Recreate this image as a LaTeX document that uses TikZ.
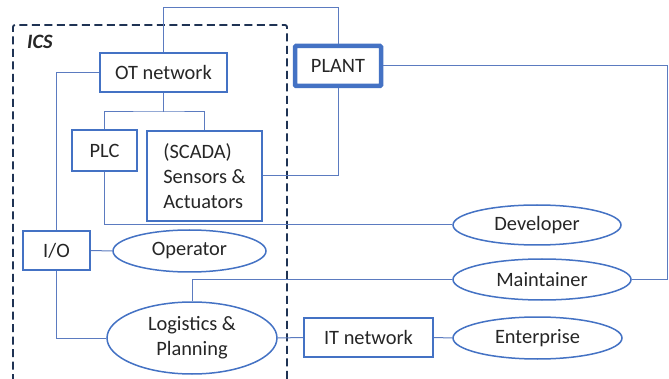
\documentclass[tikz,border=0pt]{standalone}
\usepackage{fontspec}
\setmainfont{Carlito}
\usetikzlibrary{shapes.geometric}
\definecolor{boxblue}{HTML}{4472C4}
\definecolor{wireblue}{HTML}{5B7BC0}
\definecolor{icsnavy}{HTML}{1F3354}
\definecolor{inkgrey}{HTML}{262626}
\begin{document}
\begin{tikzpicture}[x=1pt,y=-1pt,
  every node/.style={font=\fontsize{20.4}{25}\selectfont, text=inkgrey, inner sep=0pt},
  box/.style={draw=boxblue, line width=2pt, fill=white, rectangle},
  thickbox/.style={draw=boxblue, line width=4.5pt, fill=white, rectangle, rounded corners=1pt},
  actor/.style={draw=boxblue, line width=1.5pt, fill=white, ellipse},
  wire/.style={draw=wireblue, line width=1pt},
  boundary/.style={draw=icsnavy, line width=1.8pt, dash pattern=on 8pt off 4.5pt, rounded corners=2pt}]
\useasboundingbox (0,0) rectangle (669,379);
\fill[white] (0,0) rectangle (669,379);

% ICS boundary (open at the bottom edge)
\draw[boundary] (13,382) -- (13,25) -- (287,25) -- (287,382);
\node[anchor=west, font=\fontsize{20.4}{25}\selectfont\bfseries\itshape] (ics) at (27,42) {ICS};

% helper rows and columns for the routed wires
\coordinate (topy) at (0,8);
\coordinate (busy) at (0,112);
\coordinate (rightx) at (667,0);

% nodes
\node[box, minimum width=127pt, minimum height=39pt] (ot) at (163.5,72.5) {OT network};
\node[box, minimum width=65pt, minimum height=41pt] (plc) at (104.5,150.5) {PLC};
\node[box, minimum width=115pt, minimum height=90pt, align=left] (scada) at (204.5,176) {(SCADA)\\Sensors \&\\Actuators\hspace{6pt}};
\node[thickbox, minimum width=86pt, minimum height=40pt] (plant) at (338,66) {PLANT};
\node[box, minimum width=67pt, minimum height=39pt] (io) at (56.5,250.5) {I/O\hspace{12pt}};
\node[box, minimum width=129pt, minimum height=39pt] (it) at (368.5,337.5) {IT network\hspace{9pt}};
\node[actor, minimum width=153pt, minimum height=42pt] (op) at (189.5,251) {Operator};
\node[actor, minimum width=168pt, minimum height=40pt] (dev) at (537,225) {Developer};
\node[actor, minimum width=178pt, minimum height=41pt] (maint) at (542,279.5) {Maintainer};
\node[actor, minimum width=170pt, minimum height=72pt, align=center] (log) at (192,338) {Logistics \&\\Planning};
\node[actor, minimum width=169pt, minimum height=42pt] (ent) at (537.5,338) {Enterprise};

% connectors
\draw[wire] (ot.north) |- (topy -| plant.north) -- (plant.north);
\draw[wire] (ot.south) -- (ot.south |- busy);
\draw[wire] (plc.north) |- (busy -| ot.south) -| (scada.north);
\draw[wire] (ot.west) -| (io.north);
\draw[wire] (plant.south) |- (scada.east);
\draw[wire] (plant.east) -- (plant.east -| rightx) -- (rightx |- maint.east) -- (maint.east);
\draw[wire] (plc.south) |- (dev.west);
\draw[wire] (io.east) -- (op.west);
\draw[wire] (io.south) |- (log.west);
\draw[wire] (maint.west) -| (log.north);
\draw[wire] (log.east) -- (it.west);
\draw[wire] (it.east) -- (ent.west);
\end{tikzpicture}
\end{document}
